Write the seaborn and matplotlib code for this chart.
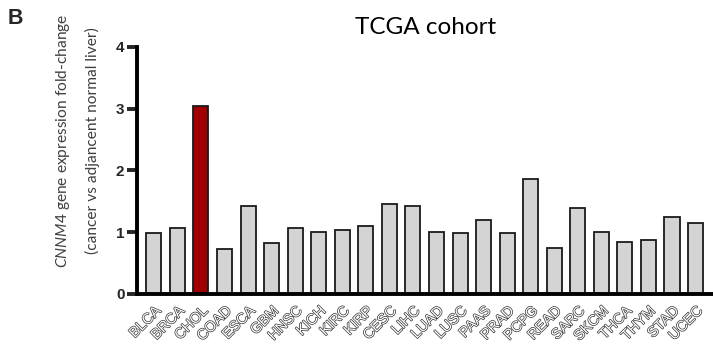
import matplotlib
matplotlib.use("Agg")
import matplotlib.pyplot as plt
import matplotlib.patheffects as pe
import seaborn as sns
import pandas as pd

cancers = ["BLCA", "BRCA", "CHOL", "COAD", "ESCA", "GBM", "HNSC", "KICH", "KIRC",
           "KIRP", "CESC", "LIHC", "LUAD", "LUSC", "PAAS", "PRAD", "PCPG", "READ",
           "SARC", "SKCM", "THCA", "THYM", "STAD", "UCEC"]
fold_change = [0.98, 1.06, 3.04, 0.73, 1.43, 0.82, 1.06, 1.01, 1.03,
               1.10, 1.46, 1.43, 1.01, 0.98, 1.20, 0.98, 1.86, 0.75,
               1.39, 1.01, 0.84, 0.87, 1.25, 1.15]
highlight = "CHOL"
y_ticks = [0, 1, 2, 3, 4]

df = pd.DataFrame({"cancer": cancers, "fc": fold_change})
palette = {c: ("#a00000" if c == highlight else "#d4d4d4") for c in cancers}

sns.set_style("ticks")
plt.rcParams["mathtext.fontset"] = "custom"
plt.rcParams["mathtext.it"] = "Lato:italic"
plt.rcParams["mathtext.rm"] = "Lato"

fig = plt.figure(figsize=(7.13, 3.47), dpi=100)
ax = fig.add_axes([0.192, 0.153, 0.808, 0.712])

sns.barplot(data=df, x="cancer", y="fc", hue="cancer", palette=palette,
            legend=False, width=0.64, edgecolor="#1a1a1a", linewidth=1.3,
            saturation=1, ax=ax)

ax.set_ylim(0, 4)
ax.set_xlim(-0.72, 23.74)
ax.set_yticks(y_ticks)
ax.set_yticklabels([str(t) for t in y_ticks], fontsize=11, fontweight="bold",
                   family="Liberation Sans")
ax.tick_params(axis="y", length=7, width=2.8, pad=2)
ax.tick_params(axis="x", length=0, pad=7)
for s in ["top", "right"]:
    ax.spines[s].set_visible(False)
for s in ["left", "bottom"]:
    ax.spines[s].set_linewidth(2.8)
    ax.spines[s].set_color("black")

ax.set_xticks(range(len(cancers)))
ax.set_xticklabels(cancers, rotation=45, ha="right", rotation_mode="anchor",
                   fontsize=10.5, family="Liberation Sans", color="white")
for lab in ax.get_xticklabels():
    lab.set_path_effects([pe.withStroke(linewidth=1.0, foreground="#333333")])

ax.set_xlabel("")
ax.set_ylabel("")
fig.text(0.088, 0.595, r"$\it{CNNM4}$ gene expression fold-change",
         rotation=90, ha="center", va="center", fontsize=11.2,
         family="Lato", color="#404040")
fig.text(0.130, 0.595, "(cancer vs adjancent normal liver)",
         rotation=90, ha="center", va="center", fontsize=11.2,
         family="Lato", color="#404040")
fig.text(0.597, 0.922, "TCGA cohort", ha="center", va="center",
         fontsize=17.5, family="Lato", color="black")
fig.text(0.010, 0.948, "B", ha="left", va="center", fontsize=15.5,
         fontweight="bold", family="Liberation Sans")

fig.savefig("out.png", dpi=100)
